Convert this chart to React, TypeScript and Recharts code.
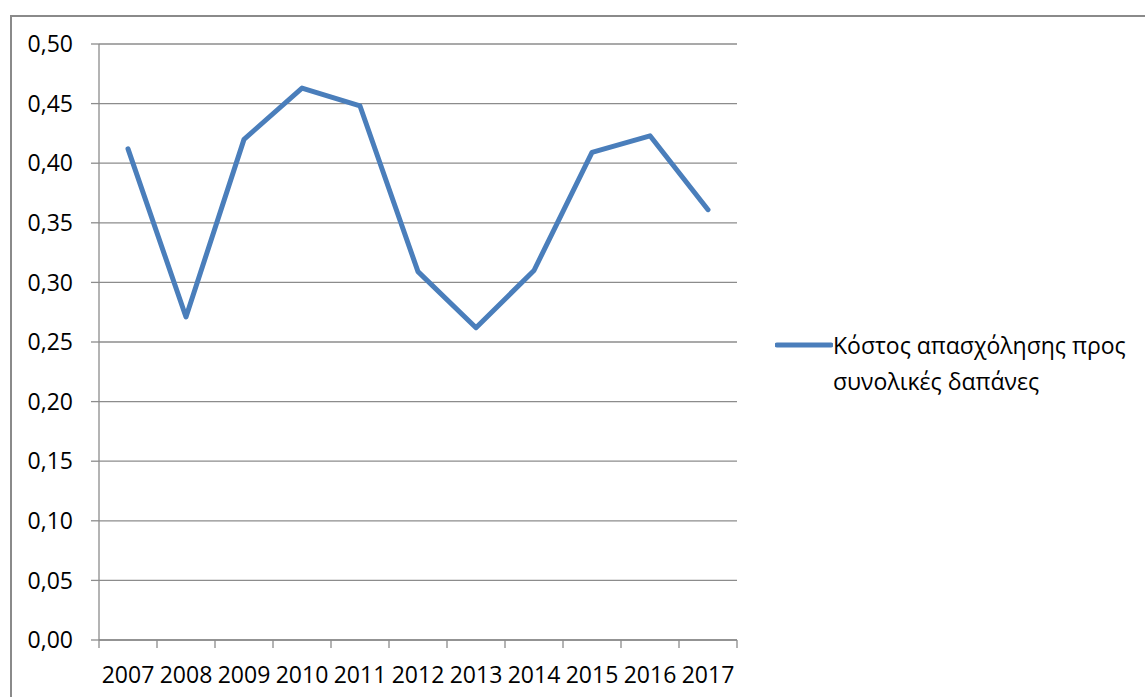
import React from 'react';
import { LineChart, Line, XAxis, YAxis, CartesianGrid, Legend } from 'recharts';

// Employment cost as a share of total expenditure, 2007–2017
const years = ['2007', '2008', '2009', '2010', '2011', '2012', '2013', '2014', '2015', '2016', '2017'];
const ratio = [0.412, 0.271, 0.42, 0.463, 0.448, 0.309, 0.262, 0.31, 0.409, 0.423, 0.361];
const yTicks = [0, 0.05, 0.1, 0.15, 0.2, 0.25, 0.3, 0.35, 0.4, 0.45, 0.5];
const seriesName = 'Κόστος απασχόλησης προς συνολικές δαπάνες';
const legendLines = ['Κόστος απασχόλησης προς', 'συνολικές δαπάνες'];

const data = years.map((y, i) => ({ year: y, value: ratio[i] }));

const FONT = '"Open Sans", "Noto Sans", sans-serif';
const LINE_COLOR = '#4a7ebb';
const GRID_COLOR = '#8c8c8c';
const LEGEND_WIDTH = 370;
const TICK_SIZE = 8;
const TICK_MARGIN = 18;

const fmt = (v: number) => v.toFixed(2).replace('.', ',');

// Year label centred in its band, with tick marks on the band edges
const YearTick = (props: any) => {
  const { x, y, payload, index, visibleTicksCount } = props;
  const half = payload && payload.offset ? payload.offset : 0;
  const axisY = y - TICK_SIZE - TICK_MARGIN;
  const isLast = index === visibleTicksCount - 1;
  return (
    <g>
      <line x1={x - half} y1={axisY} x2={x - half} y2={axisY + TICK_SIZE} stroke={GRID_COLOR} strokeWidth={1.3} />
      {isLast && (
        <line x1={x + half} y1={axisY} x2={x + half} y2={axisY + TICK_SIZE} stroke={GRID_COLOR} strokeWidth={1.3} />
      )}
      <text x={x} y={y} dy="0.74em" textAnchor="middle" fill="#000" fontSize={23} fontFamily={FONT}>
        {payload.value}
      </text>
    </g>
  );
};

const LegendContent = () => (
  <div style={{ display: 'flex', alignItems: 'flex-start', fontFamily: FONT, fontSize: 23, color: '#000' }}>
    <svg width={58} height={36} style={{ flex: 'none' }}>
      <line x1={2} y1={18} x2={56} y2={18} stroke={LINE_COLOR} strokeWidth={5} strokeLinecap="round" />
    </svg>
    <div style={{ lineHeight: '36px', whiteSpace: 'nowrap' }}>
      {legendLines.map((t) => (
        <div key={t}>{t}</div>
      ))}
    </div>
  </div>
);

export default function App() {
  return (
    <div style={{ position: 'absolute', left: 0, top: 0, width: 1145, height: 697, overflow: 'hidden', background: '#fff' }}>
      <div
        style={{
          position: 'absolute',
          left: 10,
          top: 15,
          width: 1300,
          height: 900,
          border: '2px solid #8a8a8a',
          boxSizing: 'border-box',
        }}
      />
      <div style={{ position: 'absolute', left: 0, top: 0 }}>
        <LineChart
          width={1145}
          height={697}
          data={data}
          margin={{ top: 44, right: 408 - LEGEND_WIDTH, bottom: 0, left: 0 }}
          style={{ fontFamily: FONT }}
        >
          <CartesianGrid vertical={false} stroke={GRID_COLOR} strokeWidth={1.3} />
          <XAxis
            dataKey="year"
            scale="band"
            height={57}
            axisLine={{ stroke: GRID_COLOR, strokeWidth: 1.3 }}
            tickLine={false}
            tickSize={TICK_SIZE}
            tickMargin={TICK_MARGIN}
            interval={0}
            tick={<YearTick />}
          />
          <YAxis
            width={99}
            domain={[0, 0.5]}
            ticks={yTicks}
            tickFormatter={fmt}
            tickSize={TICK_SIZE}
            tickMargin={TICK_MARGIN}
            axisLine={{ stroke: GRID_COLOR, strokeWidth: 1.3 }}
            tickLine={{ stroke: GRID_COLOR, strokeWidth: 1.3 }}
            tick={{ fill: '#000', fontSize: 23, fontFamily: FONT }}
          />
          <Legend
            layout="horizontal"
            verticalAlign="middle"
            align="right"
            content={<LegendContent />}
            wrapperStyle={{ left: 775, top: 327, right: 'auto', width: LEGEND_WIDTH }}
          />
          <Line
            type="linear"
            dataKey="value"
            name={seriesName}
            stroke={LINE_COLOR}
            strokeWidth={5}
            strokeLinecap="round"
            strokeLinejoin="round"
            dot={false}
            activeDot={false}
            isAnimationActive={false}
          />
        </LineChart>
      </div>
    </div>
  );
}
